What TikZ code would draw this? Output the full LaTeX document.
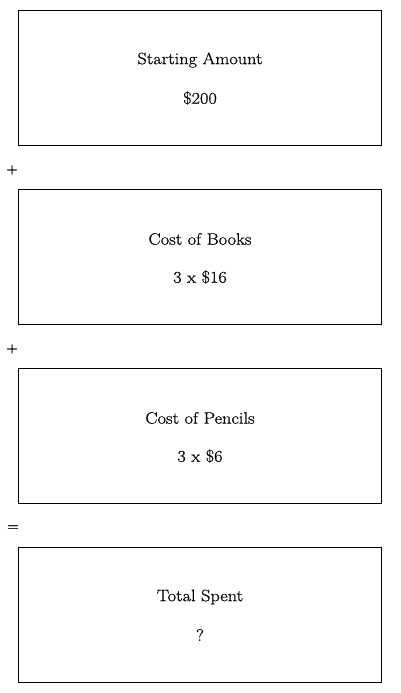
\documentclass[tikz,border=0pt]{standalone}
\usepackage{fontspec}
\newfontfamily\lblfont{Latin Modern Roman}[FakeStretch=1.11,FakeBold=0.6]
\begin{document}
\begin{tikzpicture}[x=1pt,y=-1pt,
  stepbox/.style={draw=black,line width=0.8pt,minimum width=363pt,minimum height=135pt,anchor=north west,inner sep=0pt},
  lbl/.style={font=\lblfont\fontsize{16.5}{19}\selectfont,anchor=center},
  sign/.style={font=\lblfont\fontsize{14}{16}\selectfont,anchor=center}]
\useasboundingbox (0,0) rectangle (400,693);
\node[stepbox] (b1) at (18,10) {};
\node[stepbox] (b2) at (18,189) {};
\node[stepbox] (b3) at (18,368) {};
\node[stepbox] (b4) at (18,547) {};
\node[lbl] (t1) at (200,60) {Starting Amount};
\node[lbl] (v1) at (200,98) {\$200};
\node[lbl] (t2) at (200,239) {Cost of Books};
\node[lbl] (v2) at (200,277) {3 x \$16};
\node[lbl] (t3) at (200,418) {Cost of Pencils};
\node[lbl] (v3) at (200,456) {3 x \$6};
\node[lbl] (t4) at (200,597) {Total Spent};
\node[lbl] (v4) at (200,635) {?};
\node[sign] (s1) at (12,170) {+};
\node[sign] (s2) at (12,349) {+};
\node[sign] (s3) at (13,528) {=};
\end{tikzpicture}
\end{document}
